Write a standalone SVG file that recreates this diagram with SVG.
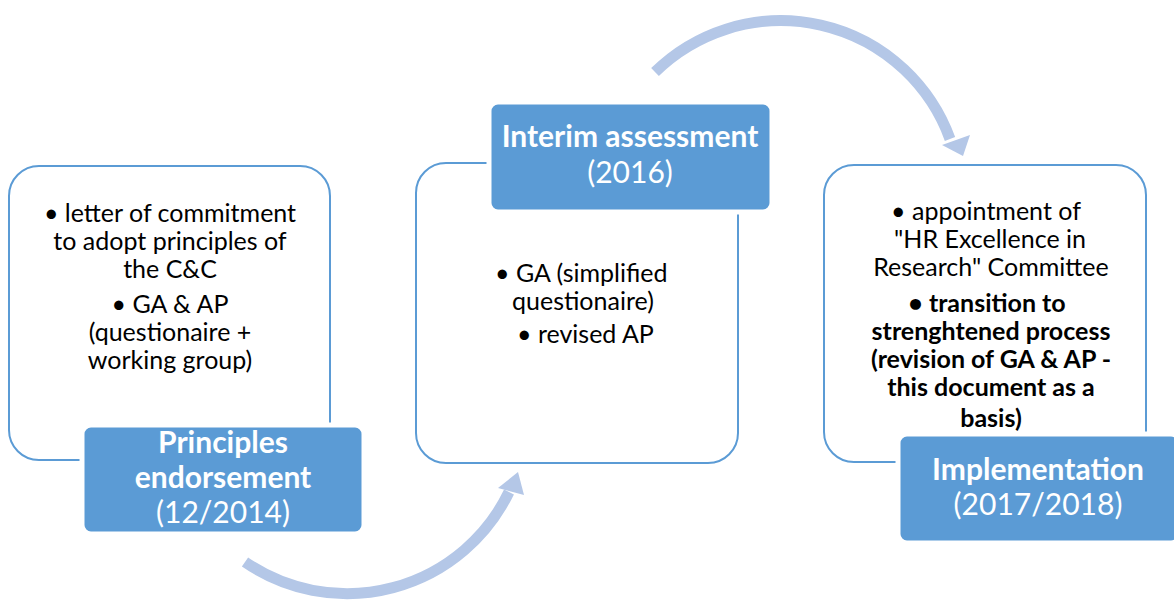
<svg xmlns="http://www.w3.org/2000/svg" width="1174" height="603" viewBox="0 0 1174 603">
<style>
.frame{fill:#fff;stroke:#5b9bd5;stroke-width:2}
.label{fill:#5b9bd5;stroke:#fff;stroke-width:5}
.body{font-family:Lato,"Liberation Sans",sans-serif;font-size:25px;fill:#000}
.b{font-weight:bold}
.lt{font-family:Lato,"Liberation Sans",sans-serif;font-size:30px;fill:#fff;text-anchor:middle}
.arc{fill:none;stroke:#b4c7e7;stroke-width:11}
.head{fill:#b4c7e7}
.c{text-anchor:middle}
</style>
<rect width="1174" height="603" fill="#fff"/>
<g id="connectors">
<path class="arc" d="M655,72 A180,180 0 0 1 950,139"/>
<polygon class="head" points="942,145 970,135 963,156"/>
<path class="arc" d="M245,562 A180,180 0 0 0 509,492"/>
<polygon class="head" points="498,488 524,495 518,472"/>
</g>
<g id="node-principles">
<rect class="frame" x="9" y="166" width="321" height="294" rx="30"/>
<text class="body c" x="170" y="222">• letter of commitment</text>
<text class="body c" x="170" y="250">to adopt principles of</text>
<text class="body c" x="170" y="278">the C&amp;C</text>
<text class="body c" x="170" y="313">• GA &amp; AP</text>
<text class="body c" x="170" y="341">(questionaire +</text>
<text class="body c" x="170" y="369">working group)</text>
<rect class="label" x="82" y="425" width="282" height="109" rx="9"/>
<text class="lt b" x="223" y="453">Principles</text>
<text class="lt b" x="223" y="488">endorsement</text>
<text class="lt" x="223" y="523">(12/2014)</text>
</g>
<g id="node-interim">
<rect class="frame" x="416" y="163" width="322" height="300" rx="30"/>
<text class="body" x="495" y="282">• GA (simplified</text>
<text class="body" x="512" y="310">questionaire)</text>
<text class="body" x="517" y="343">• revised AP</text>
<rect class="label" x="489" y="102" width="283" height="110" rx="9"/>
<text class="lt b" x="630" y="147">Interim assessment</text>
<text class="lt" x="630" y="183">(2016)</text>
</g>
<g id="node-implementation">
<rect class="frame" x="824" y="165" width="322" height="297" rx="30"/>
<text class="body c" x="986" y="220">• appointment of</text>
<text class="body c" x="990" y="248">"HR Excellence in</text>
<text class="body c" x="991" y="276">Research" Committee</text>
<text class="body b c" x="987" y="312">• transition to</text>
<text class="body b c" x="991" y="340">strenghtened process</text>
<text class="body b c" x="991" y="368">(revision of GA &amp; AP -</text>
<text class="body b c" x="991" y="396">this document as a</text>
<text class="body b c" x="991" y="427">basis)</text>
<rect class="label" x="898" y="434" width="282" height="109" rx="9"/>
<text class="lt b" x="1038" y="480">Implementation</text>
<text class="lt" x="1038" y="515">(2017/2018)</text>
</g>
</svg>
